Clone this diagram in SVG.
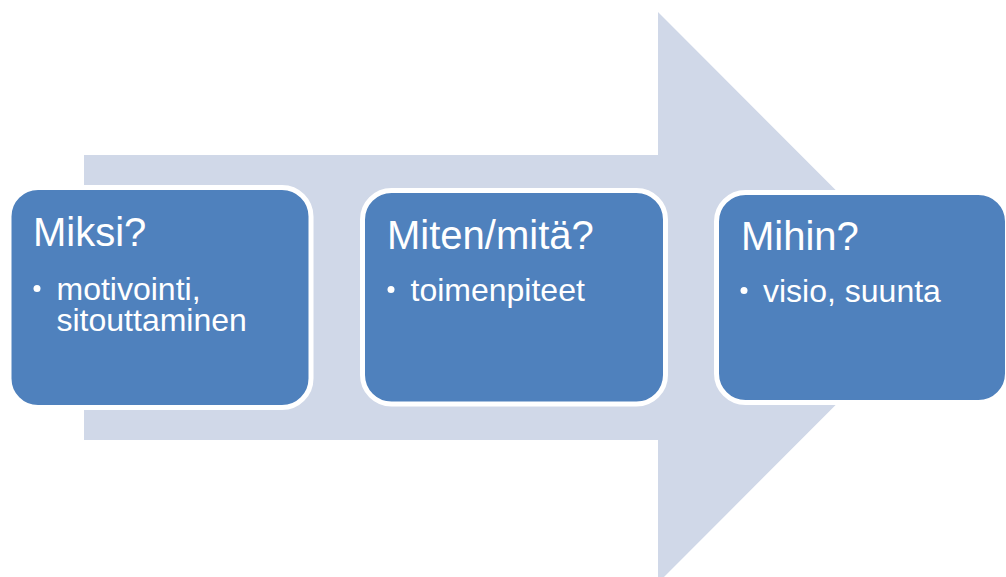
<svg xmlns="http://www.w3.org/2000/svg" width="1006" height="577" viewBox="0 0 1006 577">
  <style>
    .box { fill: #4F81BD; stroke: #FFFFFF; stroke-width: 5; }
    .title { font-family: "Liberation Sans", Arial, sans-serif; font-size: 40px; fill: #FFFFFF; }
    .item { font-family: "Liberation Sans", Arial, sans-serif; font-size: 32px; fill: #FFFFFF; }
    .bullet { fill: #FFFFFF; }
  </style>
  <rect width="1006" height="577" fill="#FFFFFF"/>
  <g id="arrow">
    <polygon points="84,155 658,155 658,12 943,297.5 658,583 658,440 84,440" fill="#D0D8E8"/>
  </g>
  <g id="connectors"></g>
  <g id="node-miksi">
    <rect class="box" x="9" y="187.5" width="302" height="220" rx="29" ry="29"/>
    <text class="title" x="33" y="246">Miksi?</text>
    <circle class="bullet" cx="37" cy="288.5" r="3.5"/>
    <text class="item" x="56.5" y="300">motivointi,<tspan x="56.5" dy="31">sitouttaminen</tspan></text>
  </g>
  <g id="node-miten">
    <rect class="box" x="362.5" y="190.5" width="303" height="213.5" rx="29" ry="29"/>
    <text class="title" x="387" y="249">Miten/mitä?</text>
    <circle class="bullet" cx="391" cy="289.5" r="3.5"/>
    <text class="item" x="410.5" y="301">toimenpiteet</text>
  </g>
  <g id="node-mihin">
    <rect class="box" x="716.5" y="192.5" width="291" height="210" rx="29" ry="29"/>
    <text class="title" x="741" y="250">Mihin?</text>
    <circle class="bullet" cx="744" cy="290.5" r="3.5"/>
    <text class="item" x="763" y="302">visio, suunta</text>
  </g>
</svg>
